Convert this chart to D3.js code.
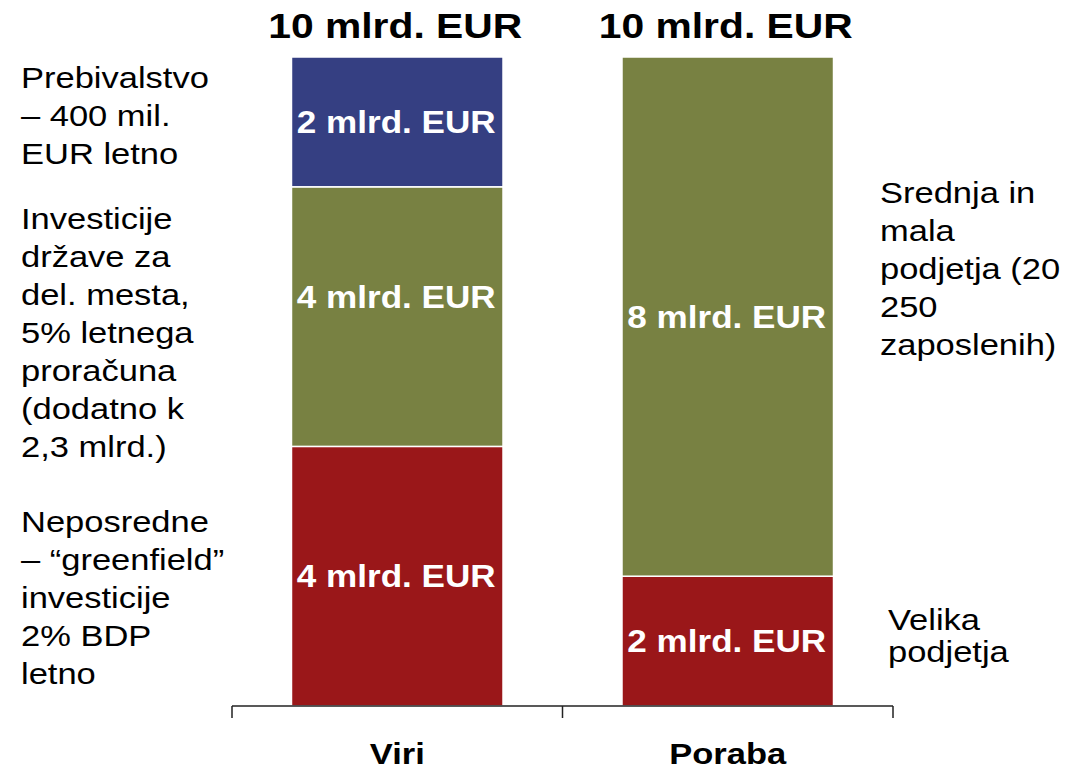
<!DOCTYPE html>
<html lang="sl">
  <head>
    <meta charset="UTF-8" />
    <title>Viri in poraba</title>
    <script src="https://d3js.org/d3.v7.min.js"></script>
    <style>
      body {
        margin: 0;
        background-color: #fff;
        font-family: "Liberation Sans", Arial, sans-serif;
      }
    </style>
  </head>
  <body>
    <div id="chart"></div>
    <script>
      // podatki (mlrd. EUR)
      const categories = ["Viri", "Poraba"];
      const totals = ["10 mlrd. EUR", "10 mlrd. EUR"];
      const viriValues = [4, 4, 2]; // od spodaj navzgor
      const viriColors = ["#9a1719", "#788142", "#353f82"];
      const porabaValues = [2, 8];
      const porabaColors = ["#9a1719", "#788142"];
      const segmentLabels = [
        ["4 mlrd. EUR", "4 mlrd. EUR", "2 mlrd. EUR"],
        ["2 mlrd. EUR", "8 mlrd. EUR"],
      ];
      const leftNotes = [
        ["Prebivalstvo", "– 400 mil.", "EUR letno"],
        ["Investicije", "države za", "del. mesta,", "5% letnega", "proračuna", "(dodatno k", "2,3 mlrd.)"],
        ["Neposredne", "– “greenfield”", "investicije", "2% BDP", "letno"],
      ];
      const rightNotes = [
        ["Srednja in", "mala", "podjetja (20", "250", "zaposlenih)"],
        ["Velika", "podjetja"],
      ];

      const width = 1082;
      const height = 771;
      const stretch = 1.15; // besedilo je v izvirniku nekoliko razširjeno

      const svg = d3
        .select("#chart")
        .append("svg")
        .attr("width", width)
        .attr("height", height);

      const x = d3.scaleBand().domain(categories).range([232, 893]).padding(0);
      const y = d3.scaleLinear().domain([0, 10]).range([706, 57]);
      const barW = x.bandwidth() * 0.64;

      function txt(g, px, py, s, size, weight, fill, anchor) {
        return g
          .append("text")
          .attr("transform", `translate(${px},${py}) scale(${stretch},1)`)
          .attr("text-anchor", anchor || "middle")
          .attr("font-size", size)
          .attr("font-weight", weight)
          .attr("fill", fill)
          .text(s);
      }

      // skladi
      const stacks = [
        { values: viriValues, colors: viriColors },
        { values: porabaValues, colors: porabaColors },
      ];
      // rahel zamik oznake (zelena v "Viri" je v izvirniku višje)
      const labelShift = [[0, -20, 0], [0, 0]];

      stacks.forEach((st, i) => {
        const cx = x(categories[i]) + x.bandwidth() / 2;
        let acc = 0;
        const segs = st.values.map((v, j) => {
          const s = { y0: acc, y1: acc + v, color: st.colors[j], label: segmentLabels[i][j], shift: labelShift[i][j] };
          acc += v;
          return s;
        });
        const g = svg.append("g");
        g.selectAll("rect")
          .data(segs)
          .enter()
          .append("rect")
          .attr("x", cx - barW / 2)
          .attr("width", barW)
          .attr("y", (d) => y(d.y1))
          .attr("height", (d) => y(d.y0) - y(d.y1))
          .attr("fill", (d) => d.color)
          .attr("stroke", "#fff")
          .attr("stroke-width", 1.5);
        segs.forEach((d) => {
          const my = (y(d.y0) + y(d.y1)) / 2 + d.shift;
          txt(g, cx - 1, my + 11, d.label, 30.5, "bold", "#fff");
        });
        txt(svg, cx - 2, 38, totals[i], 35.5, "bold", "#000");
        txt(svg, cx, 764, categories[i], 30, "bold", "#000");
      });

      // os
      const axisG = svg.append("g").attr("stroke", "#222").attr("stroke-width", 1.5);
      axisG.append("line").attr("x1", 232).attr("x2", 893).attr("y1", 706).attr("y2", 706);
      const edges = categories.map((c) => x(c)).concat([x(categories[1]) + x.bandwidth()]);
      axisG
        .selectAll(".tick")
        .data(edges)
        .enter()
        .append("line")
        .attr("x1", (d) => d)
        .attr("x2", (d) => d)
        .attr("y1", 706)
        .attr("y2", 718);

      // opombe levo in desno
      function note(lines, px, py, lh) {
        lines.forEach((l, k) => txt(svg, px, py + k * lh, l, 30, "normal", "#000", "start"));
      }
      note(leftNotes[0], 21, 88, 38);
      note(leftNotes[1], 21, 229, 38);
      note(leftNotes[2], 21, 532, 38);
      note(rightNotes[0], 880, 203, 38);
      note(rightNotes[1], 888, 630, 32);
    </script>
  </body>
</html>
